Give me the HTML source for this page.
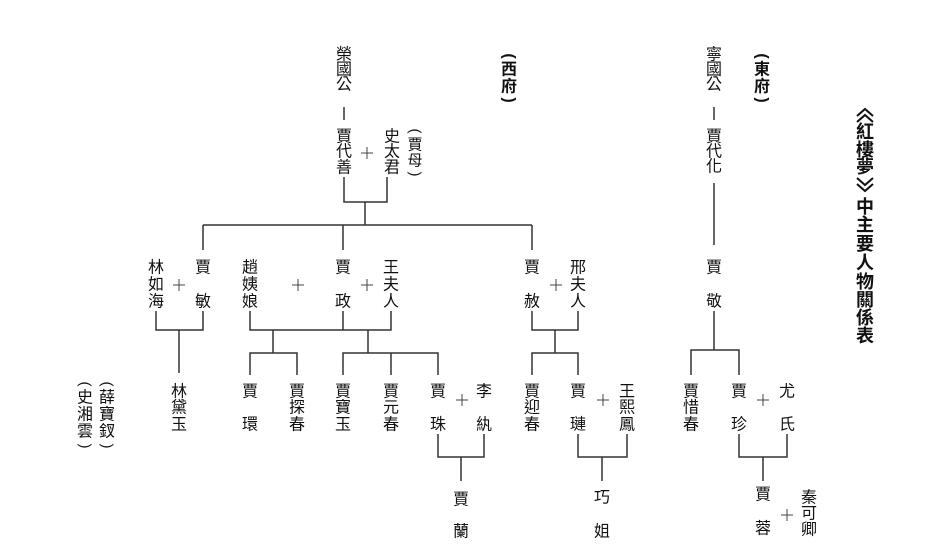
<!DOCTYPE html>
<html><head><meta charset="utf-8">
<style>
html,body{margin:0;padding:0;background:#fff;}
svg{display:block;}
text{font-family:"Liberation Sans","Noto Sans CJK TC","Noto Sans CJK SC",sans-serif;font-size:16px;fill:#111;text-anchor:middle;dominant-baseline:central;}
.b{font-weight:bold;}
.t{font-weight:bold;font-size:18px;}
.p{font-size:15px;}
line,polyline{stroke:#333;stroke-width:1.5;fill:none;}
.pl line{stroke:#444;stroke-width:1;}
.ch polyline{stroke:#111;stroke-width:2;}
</style></head>
<body>
<svg width="942" height="557" viewBox="0 0 942 557">
<!-- Title -->
<g class="ch">
<polyline points="857,116 865,109 873,116"/>
<polyline points="857,122 865,115 873,122"/>
<polyline points="857,178 865,185 873,178"/>
<polyline points="857,184 865,191 873,184"/>
</g>
<text class="t" x="865" y="132">紅</text>
<text class="t" x="865" y="150">樓</text>
<text class="t" x="865" y="167">夢</text>
<text class="t" x="865" y="207">中</text>
<text class="t" x="865" y="225">主</text>
<text class="t" x="865" y="244">要</text>
<text class="t" x="865" y="263">人</text>
<text class="t" x="865" y="282">物</text>
<text class="t" x="865" y="300">關</text>
<text class="t" x="865" y="318">係</text>
<text class="t" x="865" y="336">表</text>
<!-- 東府 西府 -->
<text class="b" transform="translate(762,56) rotate(90)">(</text>
<text class="b" x="762" y="70">東</text>
<text class="b" x="762" y="87">府</text>
<text class="b" transform="translate(762,100) rotate(90)">)</text>
<text class="b" transform="translate(509,56) rotate(90)">(</text>
<text class="b" x="509" y="70">西</text>
<text class="b" x="509" y="87">府</text>
<text class="b" transform="translate(509,100) rotate(90)">)</text>

<!-- 榮國公 line -->
<text x="344" y="55">榮</text><text x="344" y="70">國</text><text x="344" y="85">公</text>
<line x1="344" y1="107" x2="344" y2="120"/>
<text x="344" y="137">賈</text><text x="344" y="152">代</text><text x="344" y="168">善</text>
<text x="392" y="137">史</text><text x="392" y="152">太</text><text x="392" y="168">君</text>
<text class="p" transform="translate(415,131) rotate(90)">(</text><text class="p" x="415" y="145">賈</text><text class="p" x="415" y="161">母</text><text class="p" transform="translate(415,174) rotate(90)">)</text>
<polyline points="344,177 344,202 387,202 387,177"/>
<line x1="365" y1="202" x2="365" y2="225"/>
<line x1="203" y1="225" x2="532" y2="225"/>
<line x1="203" y1="225" x2="203" y2="250"/>
<line x1="343" y1="225" x2="343" y2="250"/>
<line x1="532" y1="225" x2="532" y2="250"/>

<!-- 寧國公 line -->
<text x="714" y="55">寧</text><text x="714" y="70">國</text><text x="714" y="85">公</text>
<line x1="714" y1="107" x2="714" y2="120"/>
<text x="714" y="137">賈</text><text x="714" y="152">代</text><text x="714" y="167">化</text>
<line x1="714" y1="183" x2="714" y2="245"/>

<!-- Row 2 -->
<text x="156" y="268">林</text><text x="156" y="285">如</text><text x="156" y="302">海</text>
<text x="203" y="268">賈</text><text x="203" y="302">敏</text>
<text x="250" y="268">趙</text><text x="250" y="285">姨</text><text x="250" y="302">娘</text>
<text x="343" y="268">賈</text><text x="343" y="302">政</text>
<text x="391" y="268">王</text><text x="391" y="285">夫</text><text x="391" y="302">人</text>
<text x="532" y="268">賈</text><text x="532" y="302">赦</text>
<text x="578" y="268">邢</text><text x="578" y="285">夫</text><text x="578" y="302">人</text>
<text x="714" y="268">賈</text><text x="714" y="302">敬</text>

<!-- plus signs -->
<g class="pl">
<line x1="361" y1="153" x2="373" y2="153"/><line x1="367" y1="147" x2="367" y2="159"/>
<line x1="173" y1="285" x2="185" y2="285"/><line x1="179" y1="279" x2="179" y2="291"/>
<line x1="292" y1="285" x2="304" y2="285"/><line x1="298" y1="279" x2="298" y2="291"/>
<line x1="361" y1="285" x2="373" y2="285"/><line x1="367" y1="279" x2="367" y2="291"/>
<line x1="550" y1="285" x2="562" y2="285"/><line x1="556" y1="279" x2="556" y2="291"/>
<line x1="456" y1="400" x2="468" y2="400"/><line x1="462" y1="394" x2="462" y2="406"/>
<line x1="597" y1="400" x2="609" y2="400"/><line x1="603" y1="394" x2="603" y2="406"/>
<line x1="757" y1="400" x2="769" y2="400"/><line x1="763" y1="394" x2="763" y2="406"/>
<line x1="781" y1="515" x2="793" y2="515"/><line x1="787" y1="509" x2="787" y2="521"/>
</g>

<!-- Row2 connectors -->
<polyline points="156,311 156,330 203,330 203,311"/>
<line x1="179" y1="330" x2="179" y2="373"/>
<polyline points="250,311 250,330 391,330 391,311"/>
<line x1="343" y1="311" x2="343" y2="330"/>
<line x1="273" y1="330" x2="273" y2="353"/>
<line x1="368" y1="330" x2="368" y2="353"/>
<polyline points="250,375 250,353 297,353 297,375"/>
<polyline points="343,375 343,353 438,353 438,375"/>
<line x1="391" y1="353" x2="391" y2="375"/>
<polyline points="532,311 532,330 578,330 578,311"/>
<line x1="555" y1="330" x2="555" y2="353"/>
<polyline points="532,375 532,353 578,353 578,375"/>
<line x1="714" y1="311" x2="714" y2="350"/>
<polyline points="691,375 691,350 739,350 739,375"/>

<!-- Row 3 -->
<text class="p" transform="translate(107,384) rotate(90)">(</text><text x="107" y="398">薛</text><text x="107" y="415">寶</text><text x="107" y="432">釵</text><text class="p" transform="translate(107,446) rotate(90)">)</text>
<text class="p" transform="translate(85,384) rotate(90)">(</text><text x="85" y="398">史</text><text x="85" y="415">湘</text><text x="85" y="432">雲</text><text class="p" transform="translate(85,446) rotate(90)">)</text>
<text x="179" y="392">林</text><text x="179" y="408">黛</text><text x="179" y="425">玉</text>
<text x="250" y="392">賈</text><text x="250" y="425">環</text>
<text x="297" y="392">賈</text><text x="297" y="408">探</text><text x="297" y="425">春</text>
<text x="343" y="392">賈</text><text x="343" y="408">寶</text><text x="343" y="425">玉</text>
<text x="391" y="392">賈</text><text x="391" y="408">元</text><text x="391" y="425">春</text>
<text x="438" y="392">賈</text><text x="438" y="425">珠</text>
<text x="484" y="392">李</text><text x="484" y="425">紈</text>
<text x="532" y="392">賈</text><text x="532" y="408">迎</text><text x="532" y="425">春</text>
<text x="578" y="392">賈</text><text x="578" y="425">璉</text>
<text x="627" y="392">王</text><text x="627" y="408">熙</text><text x="627" y="425">鳳</text>
<text x="691" y="392">賈</text><text x="691" y="408">惜</text><text x="691" y="425">春</text>
<text x="739" y="392">賈</text><text x="739" y="425">珍</text>
<text x="787" y="392">尤</text><text x="787" y="425">氏</text>

<!-- Row3 connectors -->
<polyline points="438,434 438,457 484,457 484,434"/>
<line x1="461" y1="457" x2="461" y2="481"/>
<polyline points="578,434 578,457 627,457 627,434"/>
<line x1="602" y1="457" x2="602" y2="481"/>
<polyline points="739,434 739,457 787,457 787,434"/>
<line x1="763" y1="457" x2="763" y2="481"/>

<!-- Row 4 -->
<text x="461" y="500">賈</text><text x="461" y="532">蘭</text>
<text x="602" y="498">巧</text><text x="602" y="532">姐</text>
<text x="763" y="495">賈</text><text x="763" y="529">蓉</text>
<text x="809" y="498">秦</text><text x="809" y="514">可</text><text x="809" y="530">卿</text>
</svg>
</body></html>
